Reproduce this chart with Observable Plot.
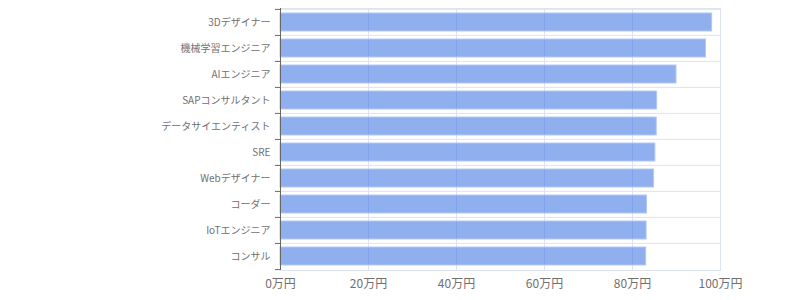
<!DOCTYPE html>
<html><head><meta charset="utf-8">
<script src="https://cdn.jsdelivr.net/npm/d3@7"></script>
<script src="https://cdn.jsdelivr.net/npm/@observablehq/plot@0.6"></script>
<style>body{margin:0;background:#fff;}</style>
</head><body><div id="chart"></div>
<script>
const jobs = ["3Dデザイナー","機械学習エンジニア","AIエンジニア","SAPコンサルタント","データサイエンティスト","SRE","Webデザイナー","コーダー","IoTエンジニア","コンサル"];
const salaries = [98.1, 96.7, 90.0, 85.6, 85.5, 85.2, 84.9, 83.3, 83.2, 83.1];
const xTicks = [0, 20, 40, 60, 80, 100];
const data = jobs.map((job, i) => ({job, salary: salaries[i]}));
const H = 300, MT = 8, MB = 30;
const step = (H - MT - MB) / jobs.length;
const grid = "#dde3f1";
const fmt = d => d + "万円";
const chart = Plot.plot({
  width: 800, height: H, marginLeft: 280, marginRight: 80, marginTop: MT, marginBottom: MB,
  style: {fontFamily: "'Noto Sans CJK JP', 'Noto Sans', sans-serif", color: "#666", background: "#fff"},
  x: {domain: [0, 100], ticks: xTicks, tickFormat: fmt, label: null},
  y: {domain: jobs, paddingInner: 0.3, paddingOuter: 0.15, label: null},
  marks: [
    Plot.gridX(xTicks, {stroke: grid, strokeOpacity: 1}),
    Plot.ruleY(jobs, {y: d => d, dy: -step / 2, stroke: grid}),
    Plot.frame({stroke: grid}),
    Plot.barX(data, {x: "salary", y: "job", fill: "rgb(68,122,228)", fillOpacity: 0.6, stroke: "#b3c7f3", strokeWidth: 1}),
    Plot.ruleX([0], {stroke: "#666"}),
    Plot.axisY({tickSize: 0, tickPadding: 10, fontSize: 10, fill: "#707070", label: null}),
    Plot.axisY(jobs, {tickSize: 5, dy: -step / 2, tickFormat: () => "", label: null}),
    Plot.axisY([jobs[jobs.length - 1]], {tickSize: 5, dy: step / 2, tickFormat: () => "", label: null}),
    Plot.axisX(xTicks, {tickSize: 0, tickPadding: 9, fontSize: 12, tickFormat: fmt, fill: "#707070", label: null})
  ]
});
document.getElementById("chart").append(chart);
</script>
</body></html>
